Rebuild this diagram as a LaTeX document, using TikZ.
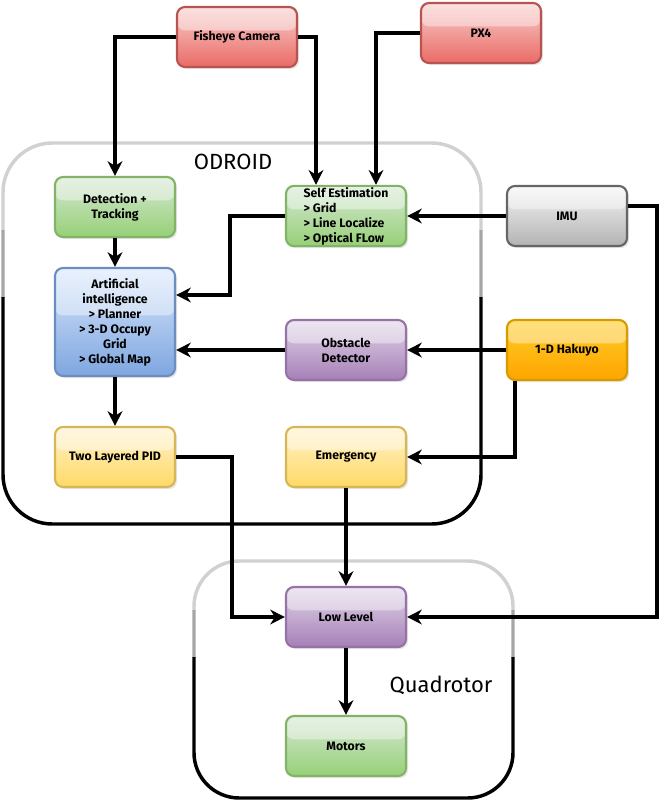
\documentclass[tikz,border=0pt]{standalone}
\usepackage{fontspec}
\setmainfont{Fira Sans}
\usetikzlibrary{arrows.meta,calc,shadows}
\definecolor{rA}{HTML}{F8CECC}\definecolor{rB}{HTML}{EA6B66}\definecolor{rS}{HTML}{B85450}
\definecolor{gA}{HTML}{D5E8D4}\definecolor{gB}{HTML}{97D077}\definecolor{gS}{HTML}{82B366}
\definecolor{bA}{HTML}{DAE8FC}\definecolor{bB}{HTML}{7EA6E0}\definecolor{bS}{HTML}{6C8EBF}
\definecolor{pA}{HTML}{E1D5E7}\definecolor{pB}{HTML}{A680B8}\definecolor{pS}{HTML}{9673A6}
\definecolor{yA}{HTML}{FFF2CC}\definecolor{yB}{HTML}{FFD966}\definecolor{yS}{HTML}{D6B656}
\definecolor{oA}{HTML}{FFCD28}\definecolor{oB}{HTML}{FFA500}\definecolor{oS}{HTML}{D79B00}
\definecolor{kA}{HTML}{F5F5F5}\definecolor{kB}{HTML}{B3B3B3}\definecolor{kS}{HTML}{666666}
\tikzset{
  box/.style n args={3}{draw=#3, line width=1.6pt, rounded corners=6pt,
    top color=#1, bottom color=#2, minimum width=90pt, minimum height=45pt,
    inner sep=1pt, align=center, font=\fontsize{9.2}{11.25}\selectfont\bfseries,
    drop shadow={opacity=0.2, shadow xshift=1.5pt, shadow yshift=-1.5pt},
    path picture={\fill[white,opacity=0.4] (path picture bounding box.north west) rectangle ([yshift=5pt]path picture bounding box.east);}},
  redbox/.style={box={rA}{rB}{rS}},
  greenbox/.style={box={gA}{gB}{gS}},
  bluebox/.style={box={bA}{bB}{bS}},
  purplebox/.style={box={pA}{pB}{pS}},
  yellowbox/.style={box={yA}{yB}{yS}},
  orangebox/.style={box={oA}{oB}{oS}},
  graybox/.style={box={kA}{kB}{kS}},
  arr/.style={-{Stealth[length=11pt,width=11pt,inset=3.5pt]}, line width=2.8pt, black},
  lbl/.style={font=\fontsize{16.5}{18}\selectfont},
  cont/.style={line width=2.6pt},
}
\begin{document}
\begin{tikzpicture}[x=0.75pt,y=-0.75pt]
\useasboundingbox (0,0) rectangle (668,801);
% containers
\begin{scope}
\clip (-10,100) rectangle (700,230);
\draw[cont, black!18, rounded corners=37pt] (3,143) rectangle (481,524);
\end{scope}
\begin{scope}
\clip (-10,230) rectangle (700,297);
\draw[cont, black!35, rounded corners=37pt] (3,143) rectangle (481,524);
\end{scope}
\begin{scope}
\clip (-10,297) rectangle (700,540);
\draw[cont, black, rounded corners=37pt] (3,143) rectangle (481,524);
\end{scope}
\begin{scope}
\clip (-10,545) rectangle (700,610);
\draw[cont, black!18, rounded corners=34pt] (194,561) rectangle (513,798);
\end{scope}
\begin{scope}
\clip (-10,610) rectangle (700,657);
\draw[cont, black!35, rounded corners=34pt] (194,561) rectangle (513,798);
\end{scope}
\begin{scope}
\clip (-10,657) rectangle (700,810);
\draw[cont, black, rounded corners=34pt] (194,561) rectangle (513,798);
\end{scope}
\node[lbl] (odroid) at (233,162) {ODROID};
\node[lbl] (quad) at (441,685) {Quadrotor};
% boxes
\node[redbox] (fish) at (237,37) {Fisheye Camera};
\node[redbox] (px4) at (481,33) {PX4};
\node[greenbox] (det) at (115,207) {Detection +\\Tracking};
\node[greenbox, align=left] (self) at (346,216) {Self Estimation\\> Grid\\> Line Localize\\> Optical FLow};
\node[graybox] (imu) at (567,216) {IMU};
\node[bluebox, minimum height=81pt] (ai) at (115,322) {Artificial\\intelligence\\> Planner\\> 3-D Occupy\\Grid\\> Global Map};
\node[purplebox] (obs) at (346,350) {Obstacle\\Detector};
\node[orangebox] (hak) at (567,350) {1-D Hakuyo};
\node[yellowbox] (pid) at (115,457) {Two Layered PID};
\node[yellowbox] (emg) at (346,457) {Emergency};
\node[purplebox] (low) at (346,617) {Low Level};
\node[greenbox] (mot) at (346,746) {Motors};
% connectors
\draw[arr] (fish.west) -| (det.north);
\draw[arr] (fish.east) -| ($(self.north)+(-30,0)$);
\draw[arr] (px4.west) -| ($(self.north)+(30,0)$);
\draw[arr] (imu.west) -- (self.east);
\draw[arr] ($(imu.east)+(0,-10)$) -- ++(29,0) |- (low.east);
\draw[arr] (self.west) -- ++(-55,0) |- ($(ai.east)+(0,-27)$);
\draw[arr] (det.south) -- (ai.north);
\draw[arr] (obs.west) -- (ai.east |- obs.west);
\draw[arr] (hak.west) -- (obs.east);
\draw[arr] ($(hak.south west)+(9,0)$) |- (emg.east);
\draw[arr] (ai.south) -- (pid.north);
\draw[arr] (pid.east) -- ++(56,0) |- (low.west);
\draw[arr] (emg.south) -- (low.north);
\draw[arr] (low.south) -- (mot.north);
\end{tikzpicture}
\end{document}
